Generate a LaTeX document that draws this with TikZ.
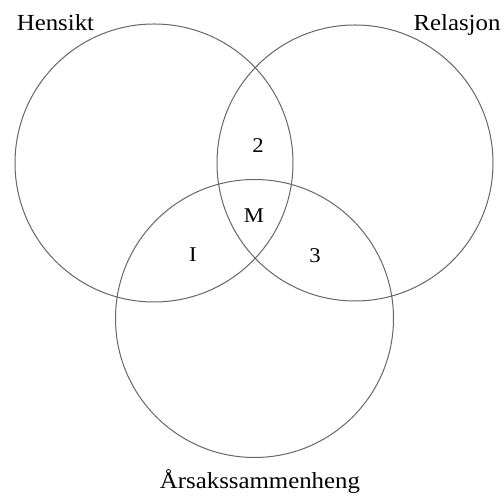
\documentclass[tikz,border=0pt]{standalone}
\usepackage{fontspec}
\setmainfont{Liberation Serif}[FakeStretch=1.08]
\usepackage{tikz}

\tikzset{
  ring/.style={draw=black!60, line width=1pt},
  tag/.style={font=\fontsize{23}{27}\selectfont, inner sep=0pt, anchor=base},
  part/.style={font=\fontsize{21}{25}\selectfont, inner sep=0pt, anchor=base}
}

\begin{document}
\begin{tikzpicture}[x=1pt,y=1pt]
\path[use as bounding box] (0,0) rectangle (504,497);
\draw[ring] (154,334) circle (139);
\draw[ring] (355,334) circle (138);
\draw[ring] (254.5,178.5) circle (139);
\node[tag] (hensikt) at (55.5,466) {Hensikt};
\node[tag] (relasjon) at (457,466) {Relasjon};
\node[tag] (aarsak) at (260,8) {Årsakssammenheng};
\node[part] (two) at (258,344) {2};
\node[part] (mid) at (254,274) {M};
\node[part] (one) at (193,235) {I};
\node[part] (three) at (315,234) {3};
\end{tikzpicture}
\end{document}
